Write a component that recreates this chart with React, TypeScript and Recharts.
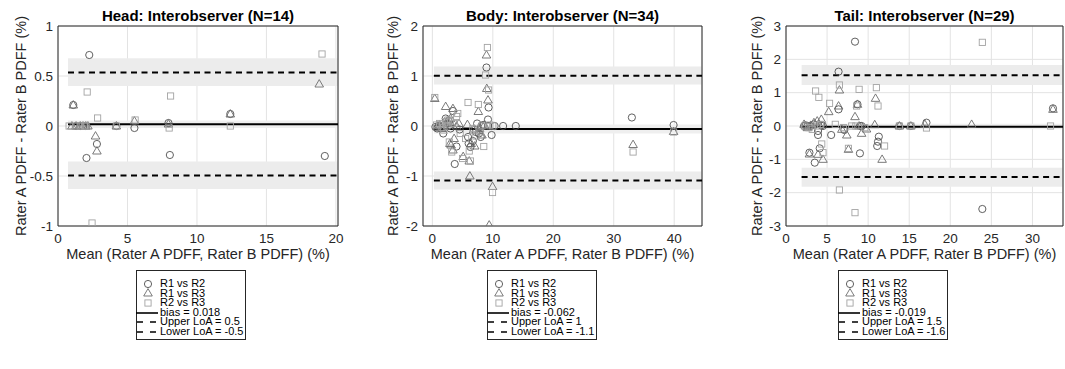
import { ScatterChart, Scatter, XAxis, YAxis, CartesianGrid, ReferenceArea, ReferenceLine, Label } from 'recharts';

// [mean, difference] pairs
const headR12: [number, number][] = [
  [1.1, 0.21], [1.3, 0], [1.6, 0], [1.8, 0], [2.0, 0], [2.05, -0.32], [2.25, 0.71],
  [2.8, -0.18], [4.2, 0], [5.5, -0.02], [7.95, 0.03], [8.05, -0.29], [12.4, 0.12], [19.2, -0.3],
];
const headR13: [number, number][] = [
  [1.0, 0], [1.1, 0.21], [1.3, 0], [1.6, 0], [1.8, 0], [2.0, 0], [2.15, 0],
  [2.7, -0.1], [2.8, -0.25], [4.2, 0], [5.5, 0.05], [7.95, 0.02], [12.4, 0.12], [18.8, 0.42],
];
const headR23: [number, number][] = [
  [0.8, 0], [1.3, 0], [1.6, 0], [1.9, 0], [2.0, 0], [2.1, 0.34], [2.45, -0.97],
  [2.85, 0.08], [4.2, 0], [5.55, 0.06], [8.0, -0.02], [8.1, 0.3], [12.4, 0], [19.0, 0.72],
];

const bodyR12: [number, number][] = [
  [0.5, -0.02], [0.8, -0.05], [1.0, 0], [1.3, -0.03], [1.8, -0.15], [2.2, 0.15], [2.5, 0.05],
  [2.7, 0.1], [2.9, 0.02], [3.0, -0.05], [3.4, 0.3], [3.7, -0.76], [4.0, -0.41], [4.5, -0.07],
  [5.9, -0.22], [6.0, -0.35], [6.3, -0.42], [6.7, -0.3], [7.2, -0.12], [7.4, 0.05], [7.7, -0.15],
  [8.0, -0.22], [8.1, 0], [8.4, 0.02], [8.95, 1.17], [9.2, 0.13], [9.2, 0], [9.3, 0.37],
  [9.8, -0.18], [10.3, 0], [11.7, 0], [13.8, 0], [33.0, 0.17], [39.9, 0.02],
];
const bodyR13: [number, number][] = [
  [0.4, 0.55], [0.8, 0], [1.2, 0.02], [1.6, -0.05], [2.0, 0.08], [2.2, 0.39], [2.5, 0.1],
  [2.7, 0.05], [2.9, -0.35], [3.0, 0.15], [3.1, -0.38], [3.4, 0.35], [3.4, -0.48], [3.6, -0.25],
  [4.0, 0], [4.4, 0.05], [5.1, -0.61], [5.8, 0.03], [6.1, -0.7], [6.2, -1.0], [6.4, -0.35],
  [6.8, -0.08], [7.0, -0.4], [7.6, 0.29], [7.8, -0.05], [8.2, -0.18], [8.6, 0.02], [8.95, 1.42],
  [9.0, 0.75], [9.2, 0.52], [9.4, -1.98], [9.95, -1.21], [33.2, -0.37], [39.9, -0.11],
];
const bodyR23: [number, number][] = [
  [0.4, 0.57], [0.7, 0.02], [1.2, 0.05], [1.6, -0.03], [1.9, -0.08], [2.3, 0.08], [2.4, 0],
  [2.6, 0.12], [2.8, -0.32], [3.0, 0.1], [3.2, -0.52], [3.6, 0.05], [4.0, 0.19], [4.2, 0.25],
  [4.6, -0.15], [5.0, -0.65], [5.5, -0.25], [5.9, 0.47], [6.1, -0.5], [6.3, -0.7], [6.7, -0.05],
  [7.2, -0.2], [7.6, 0.43], [7.9, -0.12], [8.2, 0], [8.5, -0.41], [8.8, 1.02], [9.1, 1.57],
  [9.3, 0.72], [9.5, 0.02], [9.95, -1.33], [10.0, 0], [33.2, -0.52], [39.9, -0.12],
];

const tailR12: [number, number][] = [
  [2.2, 0], [2.4, 0.02], [2.6, 0], [2.85, -0.8], [3.0, 0], [3.4, 0.05], [3.5, -1.1],
  [3.9, -0.15], [3.9, -0.27], [4.1, -0.67], [4.5, 0], [5.5, -0.27], [6.4, 0.5], [6.4, 1.63],
  [7.1, -0.12], [8.4, 2.53], [8.7, 0.65], [9.0, 0], [9.2, 0], [9.0, -0.82], [11.3, -0.32],
  [11.2, -0.47], [11.1, -0.6], [13.8, 0], [15.2, 0], [17.1, 0.1], [23.9, -2.49], [32.5, 0.53],
  [4.3, 0.02],
];
const tailR13: [number, number][] = [
  [2.2, 0.05], [2.6, -0.05], [2.85, -0.84], [3.0, 0.02], [3.4, 0.1], [3.8, 0.15], [3.9, -0.85],
  [4.0, 0.05], [4.3, 0.2], [4.5, -1.0], [5.2, 0.43], [6.4, 0.6], [6.5, 1.08], [6.8, -0.1],
  [7.4, -0.27], [7.6, -0.7], [8.4, 0.28], [8.7, 0.65], [8.9, 0], [9.2, -0.22], [9.8, -0.09],
  [10.8, 0.04], [10.9, 0.83], [11.7, -1.0], [13.8, 0], [15.2, 0], [16.9, 0.05], [22.6, 0.05],
  [32.5, 0.5],
];
const tailR23: [number, number][] = [
  [2.3, 0], [2.8, -0.05], [3.2, -0.1], [3.6, 1.05], [3.8, 0], [4.0, 0.86], [4.2, 0.05],
  [4.35, -0.54], [4.5, -0.8], [5.3, 0.68], [6.0, 0.05], [6.5, 1.23], [6.5, -1.92], [7.0, -0.05],
  [7.6, -0.67], [8.0, 0], [8.4, -2.6], [8.5, 0], [8.6, 0.6], [8.9, 1.1], [9.6, -0.05],
  [11.0, 1.15], [11.2, 0.6], [12.0, -0.6], [13.8, 0], [15.2, 0], [17.1, -0.06], [23.9, 2.51],
  [32.2, 0],
];

// bias, limits of agreement and their shaded confidence bands
const headStats = { bias: 0.018, upper: 0.535, lower: -0.495, biasCI: [-0.02, 0.055], upperCI: [0.4, 0.677], lowerCI: [-0.63, -0.355], xStart: 0.72 };
const bodyStats = { bias: -0.062, upper: 1.005, lower: -1.09, biasCI: [-0.15, 0.03], upperCI: [0.83, 1.19], lowerCI: [-1.27, -0.91], xStart: 0.25 };
const tailStats = { bias: -0.019, upper: 1.52, lower: -1.53, biasCI: [-0.1, 0.07], upperCI: [1.23, 1.83], lowerCI: [-1.82, -1.25], xStart: 1.9 };

const headLegend = ['bias = 0.018', 'Upper LoA = 0.5', 'Lower LoA = -0.5'];
const bodyLegend = ['bias = -0.062', 'Upper LoA = 1', 'Lower LoA = -1.1'];
const tailLegend = ['bias = -0.019', 'Upper LoA = 1.5', 'Lower LoA = -1.6'];

const headXTicks = [0, 5, 10, 15, 20];
const bodyXTicks = [0, 10, 20, 30, 40];
const tailXTicks = [0, 5, 10, 15, 20, 25, 30];
const headYTicks = [-1, -0.5, 0, 0.5, 1];
const bodyYTicks = [-2, -1, 0, 1, 2];
const tailYTicks = [-3, -2, -1, 0, 1, 2, 3];

const FONT = '"Liberation Sans", Arial, Helvetica, sans-serif';
const INK = '#262626';
const CHART_H = 270;

const toPoints = (arr: [number, number][]) => arr.map(([x, y]) => ({ x, y }));

const panels = [
  { title: 'Head: Interobserver (N=14)', r12: headR12, r13: headR13, r23: headR23, stats: headStats, legend: headLegend,
    xDomain: [0, 20.15], xTicks: headXTicks, yDomain: [-1, 1], yTicks: headYTicks,
    left: 0, width: 350, ml: 0, mr: 12, yLabelOffset: 21, legendLeft: 136 },
  { title: 'Body: Interobserver (N=34)', r12: bodyR12, r13: bodyR13, r23: bodyR23, stats: bodyStats, legend: bodyLegend,
    xDomain: [-1.55, 44.6], xTicks: bodyXTicks, yDomain: [-2, 2], yTicks: bodyYTicks,
    left: 355, width: 355, ml: 10, mr: 8, yLabelOffset: 28, legendLeft: 487 },
  { title: 'Tail: Interobserver (N=29)', r12: tailR12, r13: tailR13, r23: tailR23, stats: tailStats, legend: tailLegend,
    xDomain: [0, 33.72], xTicks: tailXTicks, yDomain: [-3, 3], yTicks: tailYTicks,
    left: 710, width: 355, ml: 18, mr: 2, yLabelOffset: 29, legendLeft: 838 },
];

function CircleMark(props: any) {
  return <circle cx={props.cx} cy={props.cy} r={3.6} fill="none" stroke="#4f4f4f" strokeWidth={0.9} />;
}

function TriangleMark(props: any) {
  const { cx, cy } = props;
  return <path d={`M${cx},${cy - 4.4}L${cx + 4.3},${cy + 3}L${cx - 4.3},${cy + 3}Z`} fill="none" stroke="#6c6c6c" strokeWidth={0.9} />;
}

function SquareMark(props: any) {
  const { cx, cy } = props;
  return <rect x={cx - 3.1} y={cy - 3.1} width={6.2} height={6.2} fill="none" stroke="#a3a3a3" strokeWidth={0.9} />;
}

function RotatedLabel({ viewBox, offset, value }: any) {
  const x = viewBox.x + offset;
  const y = viewBox.y + viewBox.height / 2;
  return (
    <text x={x} y={y} transform={`rotate(-90, ${x}, ${y})`} textAnchor="middle" dominantBaseline="central" fill={INK} fontSize={14.5} fontFamily={FONT}>
      {value}
    </text>
  );
}

function LegendBox({ left, labels }: { left: number; labels: string[] }) {
  const rows = [
    { key: 'c', sample: <CircleMark cx={12} cy={5} />, text: 'R1 vs R2' },
    { key: 't', sample: <TriangleMark cx={12} cy={5} />, text: 'R1 vs R3' },
    { key: 's', sample: <SquareMark cx={12} cy={5} />, text: 'R2 vs R3' },
    { key: 'b', sample: <line x1={0} x2={22} y1={5} y2={5} stroke="#000" strokeWidth={1.6} />, text: labels[0] },
    { key: 'u', sample: <line x1={1} x2={22} y1={5} y2={5} stroke="#000" strokeWidth={1.6} strokeDasharray="6 7" />, text: labels[1] },
    { key: 'l', sample: <line x1={1} x2={22} y1={5} y2={5} stroke="#000" strokeWidth={1.6} strokeDasharray="6 7" />, text: labels[2] },
  ];
  return (
    <div style={{ position: 'absolute', left, top: 270, width: 110, height: 70, boxSizing: 'border-box', border: `1px solid ${INK}`, background: '#fff', paddingTop: 8, fontFamily: FONT, fontSize: 11, color: '#000' }}>
      {rows.map((r) => (
        <div key={r.key} style={{ display: 'flex', alignItems: 'center', height: 9.6, whiteSpace: 'nowrap' }}>
          <svg width={23} height={10} style={{ marginLeft: -1, flex: 'none', overflow: 'visible' }}>{r.sample}</svg>
          <span style={{ marginLeft: 1, lineHeight: '9.6px' }}>{r.text}</span>
        </div>
      ))}
    </div>
  );
}

function Panel({ p }: { p: (typeof panels)[number] }) {
  const s = p.stats;
  const [x0, x1] = p.xDomain;
  const [y0, y1] = p.yDomain;
  const plotLeft = p.ml + 58;
  const plotRight = p.width - p.mr;
  return (
    <div style={{ position: 'absolute', left: p.left, top: 0, width: p.width, height: CHART_H }}>
      <div style={{ position: 'absolute', left: plotLeft, width: plotRight - plotLeft, top: 7, textAlign: 'center', fontFamily: FONT, fontWeight: 'bold', fontSize: 15, lineHeight: '18px', color: '#000' }}>
        {p.title}
      </div>
      <ScatterChart width={p.width} height={CHART_H} margin={{ top: 26, right: p.mr, bottom: 0, left: p.ml }} style={{ fontFamily: FONT }}>
        <CartesianGrid stroke="#e3e3e3" strokeWidth={1} />
        <XAxis type="number" dataKey="x" domain={p.xDomain} ticks={p.xTicks} interval={0} allowDataOverflow height={44}
          axisLine={false} tickLine={false} tickSize={4} tickMargin={3} tick={{ fill: INK, fontSize: 13.5 }}>
          <Label value="Mean (Rater A PDFF, Rater B PDFF) (%)" position="insideBottom" offset={11} style={{ fill: INK, fontSize: 14.5 }} />
        </XAxis>
        <YAxis type="number" dataKey="y" domain={p.yDomain} ticks={p.yTicks} interval={0} allowDataOverflow width={58}
          axisLine={false} tickLine={false} tickSize={3} tickMargin={2} tick={{ fill: INK, fontSize: 13.5 }}>
          <Label value="Rater A PDFF - Rater B PDFF (%)" offset={p.yLabelOffset} content={RotatedLabel} />
        </YAxis>
        <ReferenceArea x1={s.xStart} x2={x1} y1={s.upperCI[0]} y2={s.upperCI[1]} fill="#ececec" fillOpacity={1} stroke="none" />
        <ReferenceArea x1={s.xStart} x2={x1} y1={s.lowerCI[0]} y2={s.lowerCI[1]} fill="#ececec" fillOpacity={1} stroke="none" />
        <ReferenceArea x1={s.xStart} x2={x1} y1={s.biasCI[0]} y2={s.biasCI[1]} fill="#efefef" fillOpacity={1} stroke="none" />
        <ReferenceLine segment={[{ x: s.xStart, y: s.bias }, { x: x1, y: s.bias }]} stroke="#000" strokeWidth={2} />
        <ReferenceLine segment={[{ x: s.xStart, y: s.upper }, { x: x1, y: s.upper }]} stroke="#000" strokeWidth={2} strokeDasharray="6 4.5" />
        <ReferenceLine segment={[{ x: s.xStart, y: s.lower }, { x: x1, y: s.lower }]} stroke="#000" strokeWidth={2} strokeDasharray="6 4.5" />
        <Scatter name="R1 vs R2" data={toPoints(p.r12)} shape={CircleMark} isAnimationActive={false} />
        <Scatter name="R1 vs R3" data={toPoints(p.r13)} shape={TriangleMark} isAnimationActive={false} />
        <Scatter name="R2 vs R3" data={toPoints(p.r23)} shape={SquareMark} isAnimationActive={false} />
        <ReferenceArea x1={x0} x2={x1} y1={y0} y2={y1} fill="none" stroke={INK} strokeWidth={1} />
      </ScatterChart>
    </div>
  );
}

export default function App() {
  return (
    <div style={{ position: 'absolute', left: 0, top: 0, width: 1065, height: 369, background: '#fff', overflow: 'hidden' }}>
      {panels.map((p) => (
        <Panel key={p.title} p={p} />
      ))}
      {panels.map((p) => (
        <LegendBox key={p.title + '-legend'} left={p.legendLeft} labels={p.legend} />
      ))}
    </div>
  );
}
